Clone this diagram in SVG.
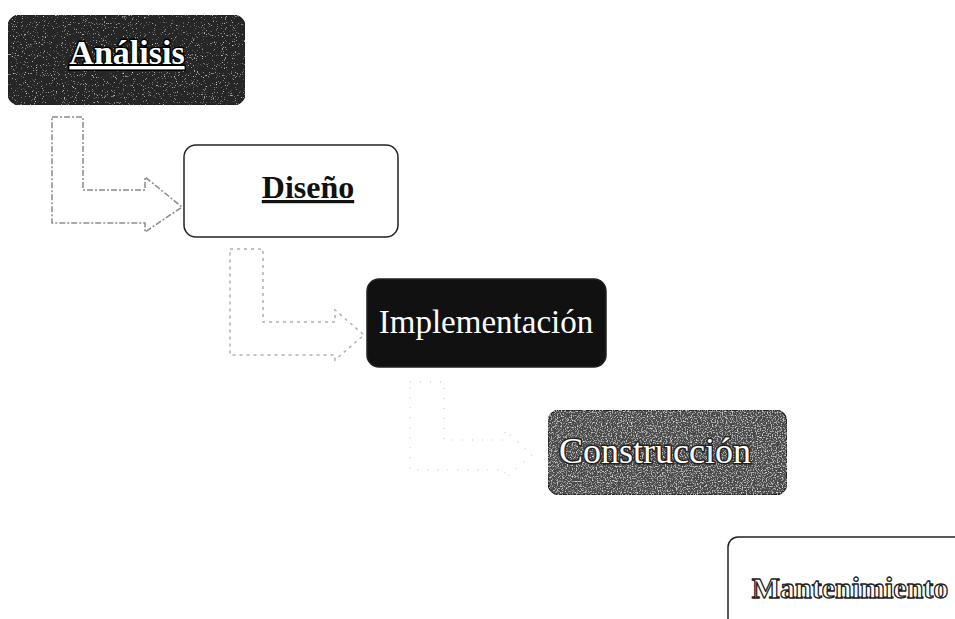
<svg xmlns="http://www.w3.org/2000/svg" width="955" height="619" viewBox="0 0 955 619">
<style>
.box{stroke:#222;stroke-width:1.5}
.serif{font-family:"Liberation Serif","Times New Roman",serif;text-anchor:middle}
.outl{paint-order:stroke;stroke-linejoin:round}
.arrow{fill:#fff;stroke:#8a8a8a;stroke-width:1.5;stroke-dasharray:6 2 2 2}
</style>
<defs>
<filter id="grain" x="0" y="0" width="100%" height="100%">
<feTurbulence type="fractalNoise" baseFrequency="0.9" numOctaves="2" seed="3" result="n"/>
<feColorMatrix in="n" type="matrix" values="0 0 0 0 0.8 0 0 0 0 0.8 0 0 0 0 0.8 0 0 0 4 -2.6" result="w"/>
<feComposite in="w" in2="SourceGraphic" operator="in" result="wi"/>
<feMerge><feMergeNode in="SourceGraphic"/><feMergeNode in="wi"/></feMerge>
</filter>
<filter id="grain2" x="0" y="0" width="100%" height="100%">
<feTurbulence type="fractalNoise" baseFrequency="0.8" numOctaves="2" seed="7" result="n"/>
<feColorMatrix in="n" type="matrix" values="0 0 0 0 0.75 0 0 0 0 0.75 0 0 0 0 0.75 0 0 0 3 -1.5" result="w"/>
<feComposite in="w" in2="SourceGraphic" operator="in" result="wi"/>
<feMerge><feMergeNode in="SourceGraphic"/><feMergeNode in="wi"/></feMerge>
</filter>
</defs>
<rect width="955" height="619" fill="#fff"/>
<g id="connectors">
<polygon class="arrow" points="52,117 83,117 83,190 145,190 145,177 182,207 145,232 145,223 52,223"/>
<polygon class="arrow" style="stroke:#b0b0b0;stroke-dasharray:3 4" points="230,249 263,249 263,322 335,322 335,310 364,335 335,360 335,355 230,355"/>
<polygon class="arrow" style="stroke:#d8d8d8;stroke-dasharray:1 9" points="410,382 444,382 444,440 505,440 505,430 532,455 505,478 505,470 410,470"/>
</g>
<g id="analisis">
<rect class="box" x="8" y="15" width="237" height="90" rx="12" fill="#262626" filter="url(#grain)"/>
<text class="serif outl" x="127" y="64" font-size="34" font-weight="bold" fill="#fff" stroke="#000" stroke-width="3" text-decoration="underline">Análisis</text>
</g>
<g id="diseno">
<rect class="box" x="184" y="145" width="214" height="92" rx="12" fill="#fff" stroke="#444"/>
<text class="serif" x="308" y="198" font-size="32" font-weight="bold" fill="#111" text-decoration="underline">Diseño</text>
</g>
<g id="implementacion">
<rect class="box" x="367" y="279" width="239" height="88" rx="12" fill="#111"/>
<text class="serif" x="486" y="333" font-size="33" fill="#fff">Implementación</text>
</g>
<g id="construccion">
<rect class="box" x="548" y="410" width="239" height="85" rx="12" fill="#4a4a4a" filter="url(#grain2)"/>
<text class="serif outl" x="655" y="463" font-size="36" fill="#fff" stroke="#222" stroke-width="3">Construcción</text>
</g>
<g id="mantenimiento">
<rect class="box" x="728" y="537" width="260" height="95" rx="10" fill="#fff" stroke="#333"/>
<text class="serif" x="850" y="598" font-size="30" font-weight="bold" fill="#fff" stroke="#222" stroke-width="1.3" stroke-linejoin="round">Mantenimiento</text>
</g>
</svg>
